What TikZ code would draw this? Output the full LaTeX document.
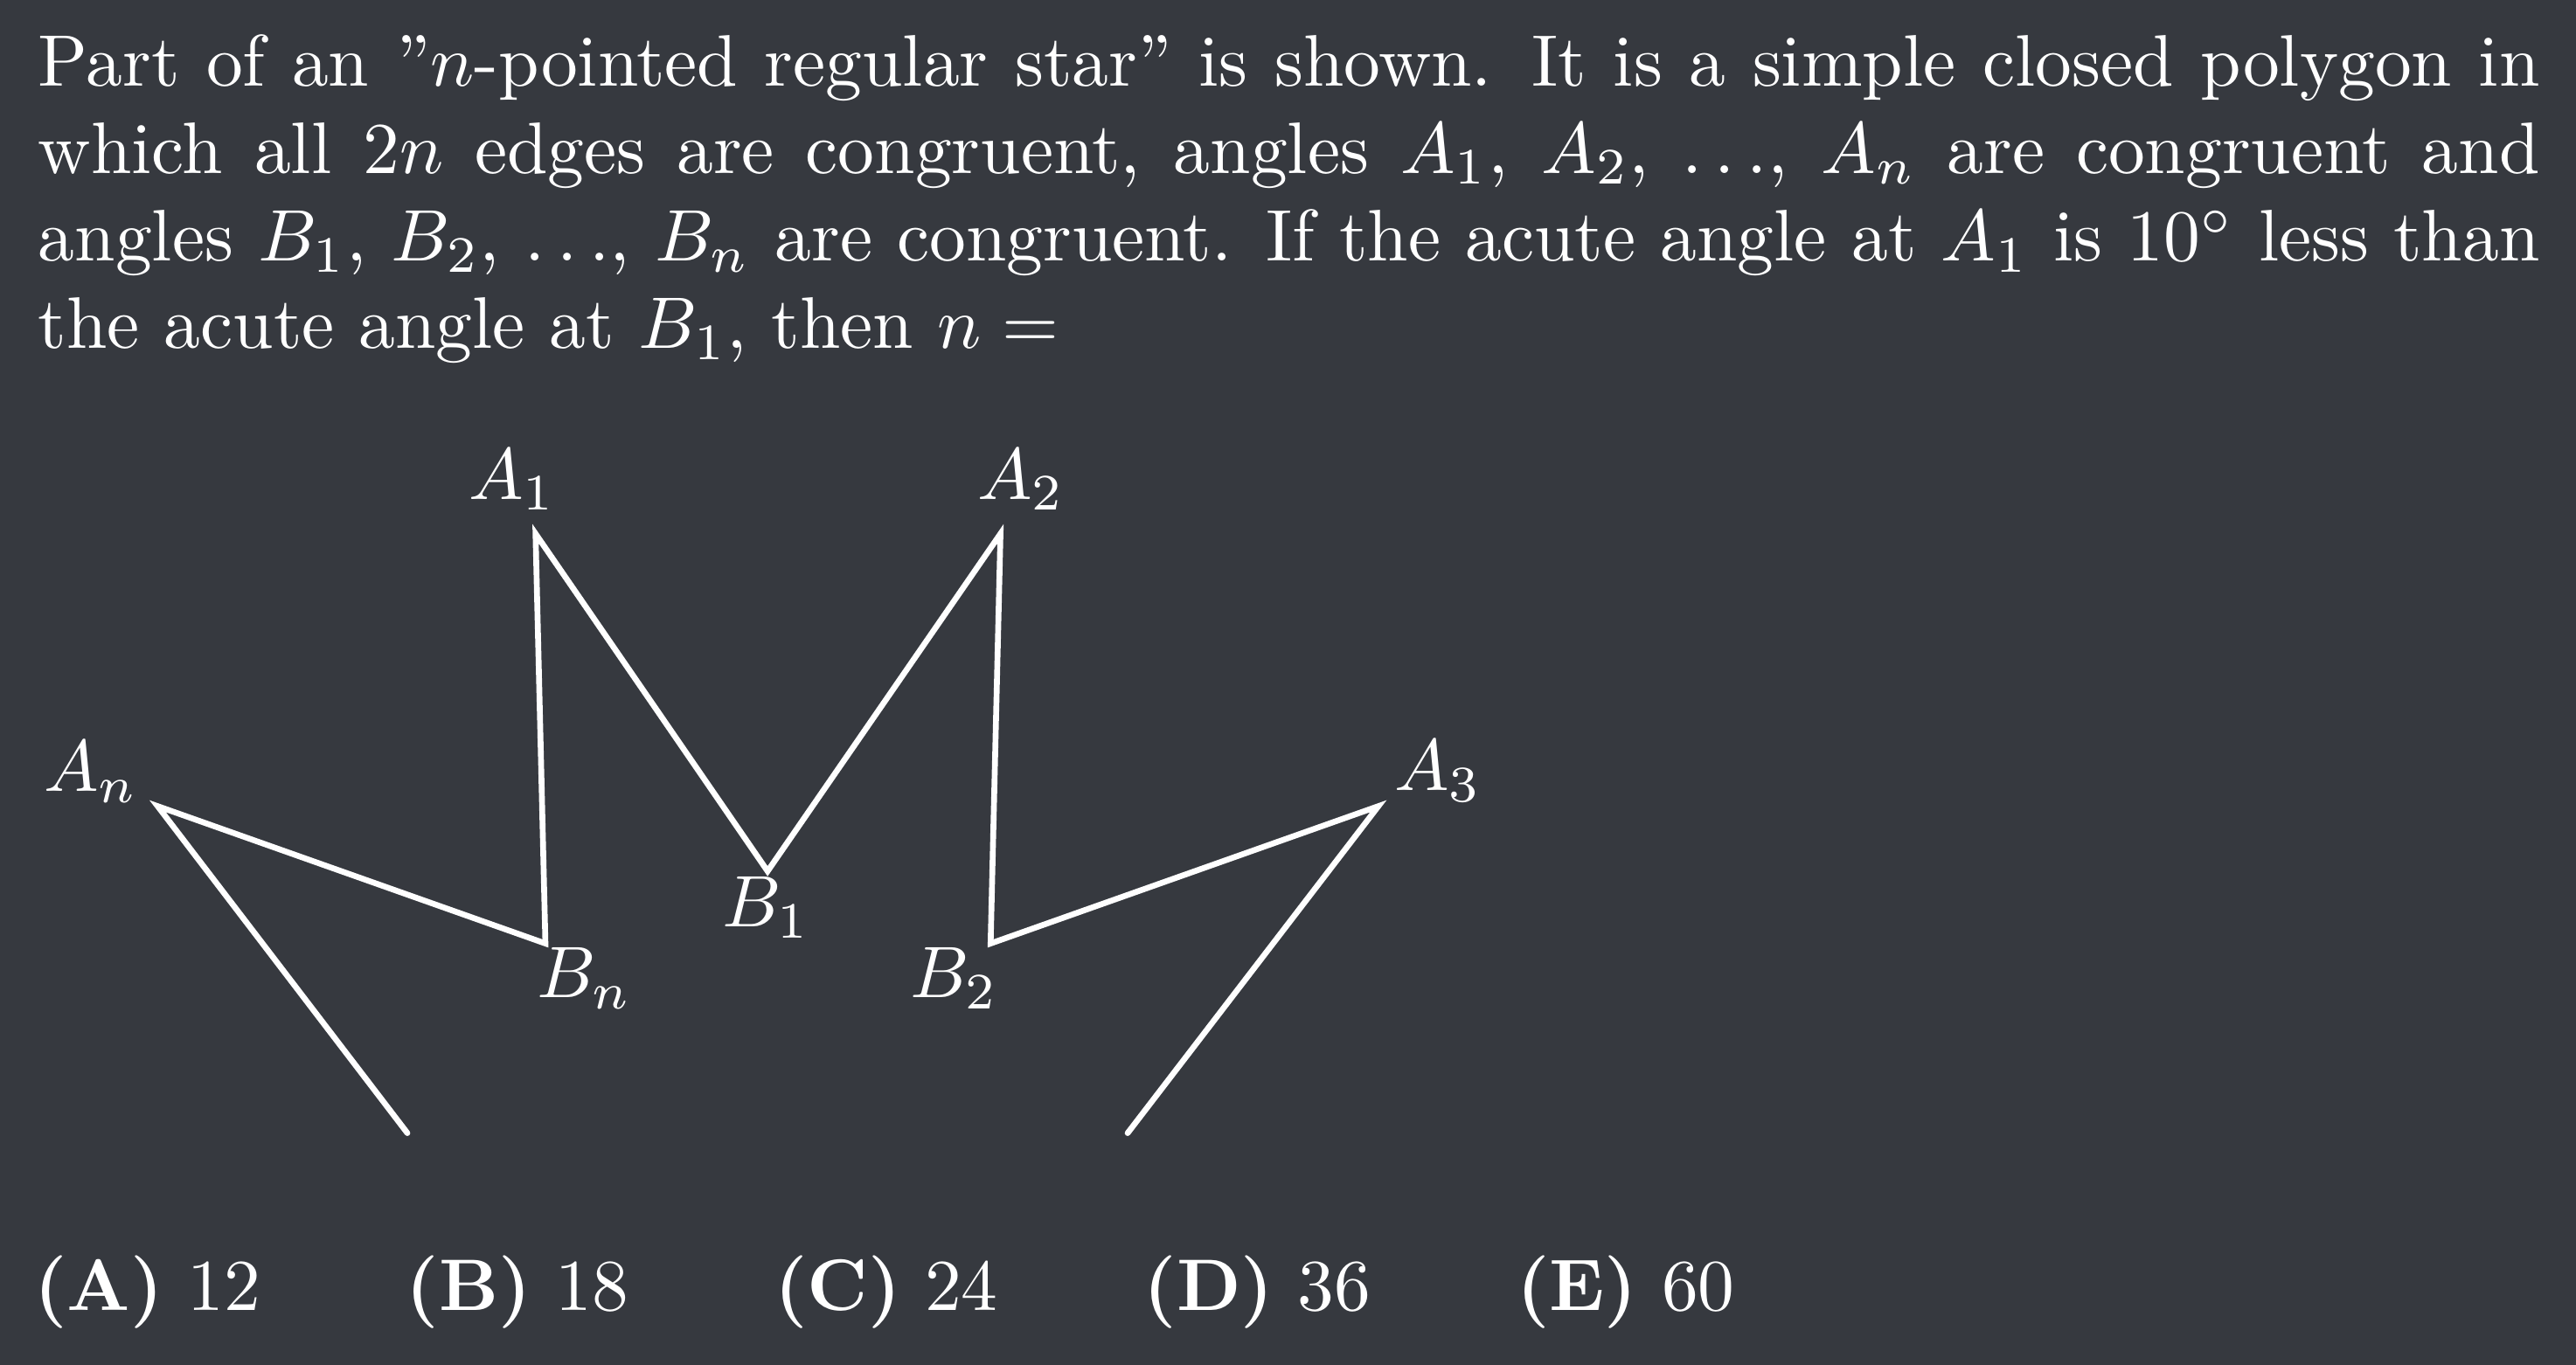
\documentclass[tikz,border=0pt]{standalone}
\usepackage{tikz}
\definecolor{bgdark}{RGB}{54,57,63}
\tikzset{
  starline/.style={line width=0.028cm, white, line cap=round, line join=miter},
  ptlabel/.style={anchor=base, inner sep=0pt, text=white}
}
\begin{document}
\begin{tikzpicture}
                            \useasboundingbox (0,0) rectangle (12.400000,6.571000);
                            \fill [bgdark] (0,0) rectangle (12.400000,6.571000);
                            {\normalsize

                            % Problem text
                            \node (question) [anchor=base west, inner sep=0pt, text=white, text width=342.6pt, align=justify,
                                font=\fontsize{10}{12}\selectfont] at (0.178000,6.158000)
                                {Part of an ''$n$-pointed regular star'' is shown. It is a simple closed polygon in\linebreak
                                which all $2n$ edges are congruent, angles $A_1$, $A_2$, $\ldots$, $A_n$ are congruent and\linebreak
                                angles $B_1$, $B_2$, $\ldots$, $B_n$ are congruent. If the acute angle at $A_1$ is $10^\circ$ less than\linebreak
                                the acute angle at $B_1$, then $n =$};

                            % Vertices of the star
                            \coordinate (Lend) at (1.961000,1.115000);
                            \coordinate (An) at (0.759000,2.689000);
                            \coordinate (Bn) at (2.625500,2.028000);
                            \coordinate (A1) at (2.578000,4.001000);
                            \coordinate (B1) at (3.695000,2.376000);
                            \coordinate (A2) at (4.816000,4.001000);
                            \coordinate (B2) at (4.768500,2.028000);
                            \coordinate (A3) at (6.635000,2.689000);
                            \coordinate (Rend) at (5.428000,1.115000);

                            % Drawing edges
                            \draw [starline] (Lend) -- (An) -- (Bn) -- (A1) -- (B1) -- (A2) -- (B2) -- (A3) -- (Rend);%

                            % Marking point A_1
                            \node (lA1) [ptlabel] at (2.467000,4.167000) {$A_1$};%

                            % Marking point A_2
                            \node (lA2) [ptlabel] at (4.915000,4.167000) {$A_2$};%

                            % Marking point A_n
                            \node (lAn) [ptlabel] at (0.439000,2.760000) {$A_n$};%

                            % Marking point A_3
                            \node (lA3) [ptlabel] at (6.923000,2.763000) {$A_3$};%

                            % Marking point B_1
                            \node (lB1) [ptlabel] at (3.689000,2.107000) {$B_1$};%

                            % Marking point B_n
                            \node (lBn) [ptlabel] at (2.815000,1.767000) {$B_n$};%

                            % Marking point B_2
                            \node (lB2) [ptlabel] at (4.594000,1.767000) {$B_2$};%

                            % Answer choices
                            \node (choices) [anchor=base west, inner sep=0pt, text=white] at (0.158000,0.263000)
                                {\textbf{(A)}\ 12\qquad\textbf{(B)}\ 18\qquad\textbf{(C)}\ 24\qquad\textbf{(D)}\ 36\qquad\textbf{(E)}\ 60};
                            }
                        \end{tikzpicture}
\end{document}
